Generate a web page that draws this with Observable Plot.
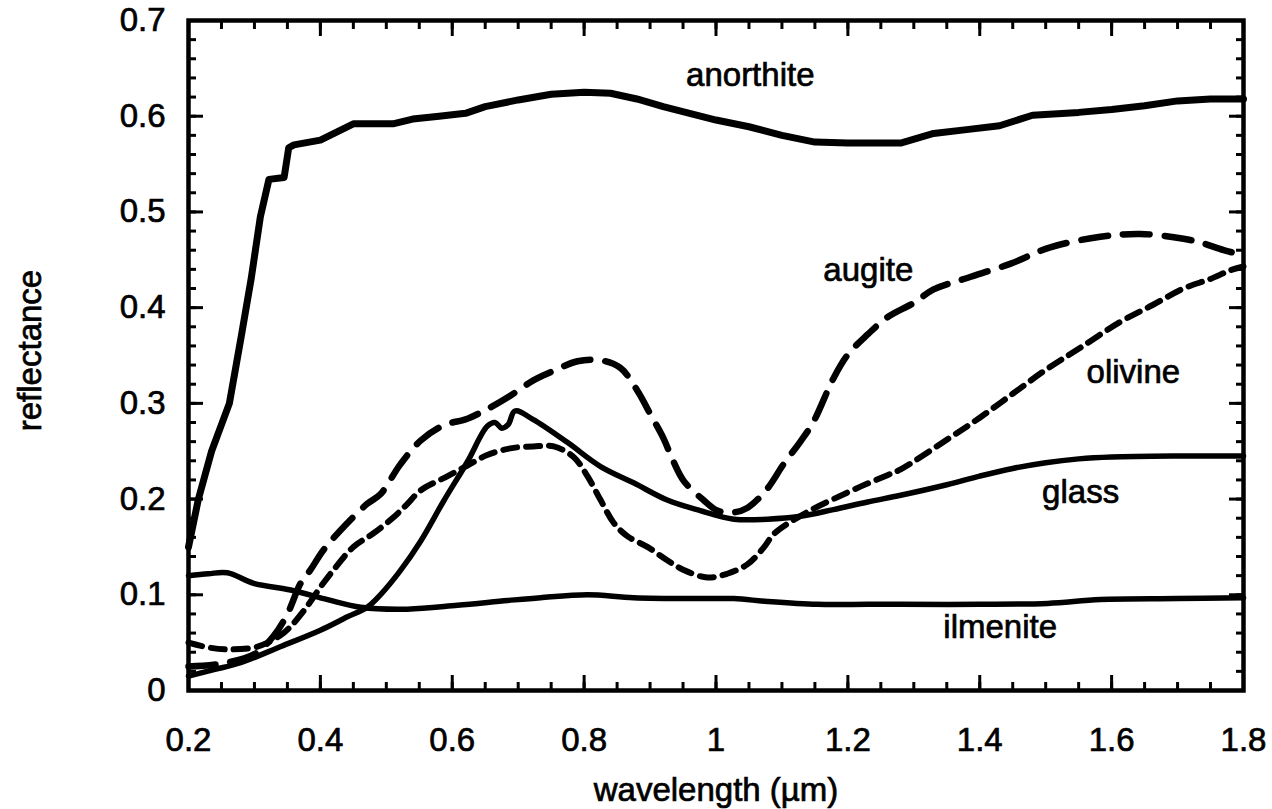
<!DOCTYPE html>
<html>
<head>
<meta charset="utf-8">
<script src="https://cdn.jsdelivr.net/npm/d3@7"></script>
<script src="https://cdn.jsdelivr.net/npm/@observablehq/plot@0.6"></script>
<style>
  html, body { margin: 0; padding: 0; background: #fff; }
  #chart svg { display: block; }
  /* slightly heavier glyphs for all chart text */
  #chart svg text { stroke: #000; stroke-width: 0.7px; paint-order: stroke; }
</style>
</head>
<body>
<div id="chart"></div>
<script>
// Reflectance spectra of lunar minerals, [wavelength µm, reflectance]
const anorthite = [
  [0.20,0.150],[0.215,0.200],[0.235,0.250],[0.262,0.300],[0.280,0.370],[0.295,0.430],
  [0.309,0.495],[0.322,0.534],[0.345,0.536],[0.352,0.567],[0.360,0.570],[0.400,0.575],
  [0.450,0.592],[0.510,0.592],[0.540,0.597],[0.580,0.600],[0.620,0.603],[0.650,0.610],
  [0.700,0.617],[0.750,0.623],[0.800,0.625],[0.840,0.624],[0.880,0.618],[0.920,0.610],
  [0.960,0.603],[1.000,0.596],[1.050,0.589],[1.100,0.580],[1.150,0.573],[1.200,0.572],
  [1.250,0.572],[1.280,0.572],[1.330,0.582],[1.380,0.586],[1.430,0.590],[1.480,0.601],
  [1.550,0.604],[1.600,0.607],[1.650,0.611],[1.700,0.616],[1.750,0.618],[1.800,0.618]
];
const augite = [
  [0.20,0.025],[0.25,0.028],[0.30,0.038],[0.329,0.057],[0.350,0.080],[0.370,0.112],
  [0.385,0.126],[0.405,0.147],[0.441,0.175],[0.471,0.195],[0.491,0.205],[0.521,0.236],
  [0.552,0.261],[0.587,0.277],[0.623,0.284],[0.653,0.294],[0.688,0.308],[0.723,0.324],
  [0.754,0.334],[0.790,0.344],[0.825,0.345],[0.855,0.337],[0.881,0.313],[0.901,0.288],
  [0.920,0.264],[0.935,0.240],[0.951,0.219],[0.981,0.199],[1.002,0.188],[1.025,0.186],
  [1.048,0.191],[1.078,0.211],[1.102,0.236],[1.128,0.260],[1.148,0.281],[1.178,0.326],
  [1.200,0.351],[1.230,0.372],[1.260,0.390],[1.300,0.405],[1.330,0.419],[1.381,0.431],
  [1.447,0.446],[1.507,0.463],[1.583,0.474],[1.644,0.477],[1.709,0.472],[1.735,0.468],
  [1.770,0.460],[1.800,0.455]
];
const olivine = [
  [0.20,0.050],[0.23,0.045],[0.26,0.043],[0.30,0.045],[0.32,0.050],[0.344,0.060],
  [0.359,0.070],[0.380,0.088],[0.400,0.108],[0.420,0.126],[0.450,0.150],[0.480,0.164],
  [0.511,0.181],[0.532,0.195],[0.552,0.209],[0.593,0.224],[0.623,0.235],[0.653,0.246],
  [0.688,0.253],[0.723,0.255],[0.754,0.255],[0.784,0.244],[0.805,0.224],[0.825,0.199],
  [0.845,0.175],[0.866,0.161],[0.896,0.150],[0.926,0.136],[0.951,0.126],[0.987,0.118],
  [1.017,0.122],[1.048,0.132],[1.072,0.149],[1.087,0.163],[1.108,0.174],[1.148,0.190],
  [1.178,0.200],[1.219,0.213],[1.260,0.225],[1.280,0.231],[1.350,0.262],[1.400,0.285],
  [1.450,0.310],[1.500,0.335],[1.550,0.357],[1.613,0.385],[1.663,0.403],[1.709,0.420],
  [1.750,0.430],[1.780,0.439],[1.800,0.443]
];
const glass = [
  [0.20,0.015],[0.24,0.022],[0.279,0.029],[0.340,0.046],[0.400,0.063],[0.441,0.077],
  [0.471,0.087],[0.491,0.100],[0.521,0.125],[0.552,0.156],[0.587,0.198],[0.623,0.239],
  [0.653,0.276],[0.665,0.280],[0.675,0.274],[0.685,0.278],[0.695,0.292],[0.723,0.283],
  [0.775,0.259],[0.825,0.234],[0.875,0.217],[0.926,0.199],[0.976,0.188],[1.027,0.179],
  [1.078,0.179],[1.128,0.182],[1.178,0.189],[1.230,0.197],[1.280,0.204],[1.350,0.215],
  [1.400,0.224],[1.450,0.232],[1.500,0.238],[1.550,0.242],[1.600,0.244],[1.700,0.245],
  [1.800,0.245]
];
const ilmenite = [
  [0.20,0.120],[0.23,0.122],[0.259,0.123],[0.299,0.112],[0.355,0.105],[0.411,0.095],
  [0.461,0.087],[0.532,0.085],[0.608,0.089],[0.684,0.094],[0.734,0.097],[0.805,0.100],
  [0.875,0.097],[0.976,0.096],[1.027,0.096],[1.078,0.093],[1.154,0.090],[1.230,0.090],
  [1.280,0.090],[1.400,0.090],[1.503,0.091],[1.583,0.095],[1.700,0.096],[1.800,0.097]
];

// Curve name labels placed in data space
const curveLabels = [
  {name: "anorthite", x: 1.052, y: 0.643},
  {name: "augite",    x: 1.231, y: 0.439},
  {name: "olivine",   x: 1.633, y: 0.332},
  {name: "glass",     x: 1.553, y: 0.207},
  {name: "ilmenite",  x: 1.431, y: 0.066}
];

// Axis ticks
const xMajor = [0.2, 0.4, 0.6, 0.8, 1.0, 1.2, 1.4, 1.6, 1.8];
const xTickLabels = ["0.2", "0.4", "0.6", "0.8", "1", "1.2", "1.4", "1.6", "1.8"];
const xMinor = d3.range(0.2, 1.8001, 0.05);
const yMajor = [0, 0.1, 0.2, 0.3, 0.4, 0.5, 0.6, 0.7];
const yTickLabels = ["0", "0.1", "0.2", "0.3", "0.4", "0.5", "0.6", "0.7"];
const yMinor = d3.range(0, 0.7001, 0.02);

const font = "'Liberation Sans', Arial, Helvetica, sans-serif";
const fs = 33;
const majorLen = 15, minorLen = 8;

const xFmt = d => xTickLabels[xMajor.findIndex(v => Math.abs(v - d) < 1e-9)];
const yFmt = d => yTickLabels[yMajor.findIndex(v => Math.abs(v - d) < 1e-9)];
const noText = () => "";

const pt = {x: d => d[0], y: d => d[1]};

const chart = Plot.plot({
  width: 1272,
  height: 809,
  marginLeft: 188,
  marginRight: 29,
  marginTop: 20,
  marginBottom: 119,
  style: {fontFamily: font, fontSize: `${fs}px`, color: "#000", background: "#fff"},
  x: {domain: [0.2, 1.8]},
  y: {domain: [0, 0.7]},
  marks: [
    // inward ticks on all four sides
    Plot.axisX(xMinor, {anchor: "bottom", tickSize: -minorLen, tickFormat: noText, strokeWidth: 3, label: null}),
    Plot.axisX(xMinor, {anchor: "top", tickSize: -minorLen, tickFormat: noText, strokeWidth: 3, label: null}),
    Plot.axisX(xMajor, {anchor: "bottom", tickSize: -majorLen, tickPadding: 52, tickFormat: xFmt, strokeWidth: 3, fontSize: fs, label: null}),
    Plot.axisX(xMajor, {anchor: "top", tickSize: -majorLen, tickFormat: noText, strokeWidth: 3, label: null}),
    Plot.axisY(yMinor, {anchor: "left", tickSize: -minorLen, tickFormat: noText, strokeWidth: 3, label: null}),
    Plot.axisY(yMinor, {anchor: "right", tickSize: -minorLen, tickFormat: noText, strokeWidth: 3, label: null}),
    Plot.axisY(yMajor, {anchor: "left", tickSize: -majorLen, tickPadding: 38, tickFormat: yFmt, strokeWidth: 3, fontSize: fs, label: null}),
    Plot.axisY(yMajor, {anchor: "right", tickSize: -majorLen, tickFormat: noText, strokeWidth: 3, label: null}),

    // spectra
    Plot.line(ilmenite, {...pt, stroke: "#000", strokeWidth: 5.5, curve: "catmull-rom"}),
    Plot.line(glass, {...pt, stroke: "#000", strokeWidth: 5.5, curve: "catmull-rom"}),
    Plot.line(olivine, {...pt, stroke: "#000", strokeWidth: 6, strokeDasharray: "14,9", curve: "catmull-rom"}),
    Plot.line(augite, {...pt, stroke: "#000", strokeWidth: 6.5, strokeDasharray: "27,15", curve: "catmull-rom"}),
    Plot.line(anorthite, {...pt, stroke: "#000", strokeWidth: 7, curve: "linear", strokeLinejoin: "round"}),

    // curve names
    Plot.text(curveLabels, {x: "x", y: "y", text: "name", fontSize: fs, fill: "#000"}),

    // axis titles
    Plot.text(["reflectance"], {frameAnchor: "left", textAnchor: "middle", lineAnchor: "middle", dx: -158, dy: -5, rotate: -90, fontSize: fs, fill: "#000"}),
    Plot.text(["wavelength (µm)"], {frameAnchor: "bottom", textAnchor: "middle", lineAnchor: "middle", dy: 100, fontSize: fs, fill: "#000"}),

    Plot.frame({stroke: "#000", strokeWidth: 4.5})
  ]
});

document.getElementById("chart").appendChild(chart);
</script>
</body>
</html>
